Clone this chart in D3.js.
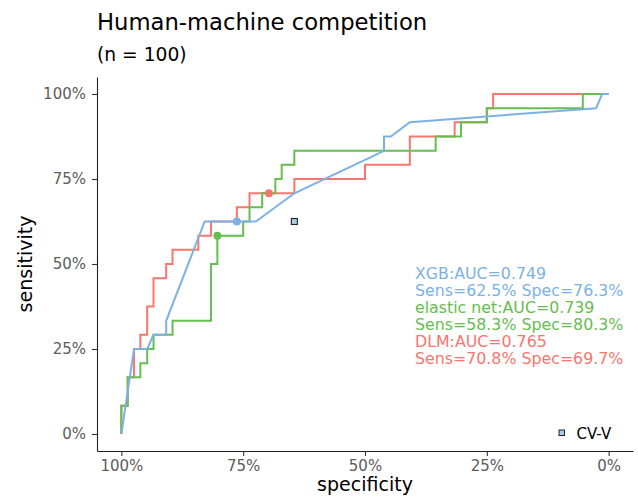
<!DOCTYPE html>
<html>
<head>
  <title>Human-machine competition</title>
  <script src="https://d3js.org/d3.v7.min.js"></script>
  <style>
    body { margin: 0; background: #fff; }
    text { font-family: "DejaVu Sans", sans-serif; }
  </style>
</head>
<body>
<script type="text/javascript">

// ****** DATA ******

  // XGB curve (specificity %, sensitivity %), joined by straight lines
  var xgbSpec = [100, 97.4, 94.7, 93.4, 90.8, 90.8, 82.9, 72.4, 64.5, 46.1, 46.1, 44.7, 40.8, 2.6, 1.3, 0];
  var xgbSens = [0, 25.0, 25.0, 29.2, 29.2, 33.3, 62.5, 62.5, 70.8, 83.3, 87.5, 87.5, 91.7, 95.8, 100, 100];

  // elastic net curve, step corners
  var enetSpec = [100, 100, 98.7, 96.1, 94.7, 93.4, 89.5, 81.6, 80.3, 75.0, 73.7, 71.1, 68.4, 67.1, 64.5, 35.5, 30.3, 25.0, 5.3, 0];
  var enetSens = [0, 8.3, 16.7, 20.8, 25.0, 29.2, 33.3, 50.0, 58.3, 62.5, 66.7, 70.8, 75.0, 79.2, 83.3, 87.5, 91.7, 95.8, 100, 100];

  // DLM curve, step corners
  var dlmSpec = [100, 100, 98.7, 97.4, 96.1, 94.7, 93.4, 90.8, 89.5, 84.2, 81.6, 76.3, 73.7, 64.5, 50.0, 40.8, 31.6, 25.0, 23.7, 0];
  var dlmSens = [0, 8.3, 16.7, 25.0, 29.2, 37.5, 45.8, 50.0, 54.2, 58.3, 62.5, 66.7, 70.8, 75.0, 79.2, 87.5, 91.7, 95.8, 100, 100];

  // best cut-off points
  var cutNames = ["XGB", "elastic net", "DLM"];
  var cutSpec = [76.3, 80.3, 69.7];
  var cutSens = [62.5, 58.3, 70.8];
  var cutAuc = ["0.749", "0.739", "0.765"];

  // human reader (CV-V)
  var readerSpec = [64.5];
  var readerSens = [62.5];

  var tickValues = [1, 0.75, 0.5, 0.25, 0];
  var colors = ["#7cb2e3", "#66bd50", "#f8766d"];


// ****** LAYOUT ******

  var width = 638,
      height = 503,
      padLeft = 97, padRight = 633, padTop = 77, padBottom = 451;

  var svg = d3.select("body")
    .append("svg")
    .attr("width", width)
    .attr("height", height);

  var x = d3.scaleLinear().domain([1.05, -0.05]).range([padLeft, padRight]);
  var y = d3.scaleLinear().domain([-0.05, 1.05]).range([padBottom, padTop]);

  svg.append("text")
    .attr("x", 97).attr("y", 30)
    .style("font-size", "22.7px")
    .text("Human-machine competition");

  svg.append("text")
    .attr("x", 97).attr("y", 61)
    .style("font-size", "18.7px")
    .text("(n = 100)");


// ****** AXES ******

  var xAxis = svg.append("g")
    .attr("transform", "translate(0," + padBottom + ")")
    .call(d3.axisBottom(x).tickValues(tickValues).tickFormat(d3.format(".0%")).tickSize(5).tickSizeOuter(0).tickPadding(4));

  var yAxis = svg.append("g")
    .attr("transform", "translate(" + padLeft + ",0)")
    .call(d3.axisLeft(y).tickValues(tickValues).tickFormat(d3.format(".0%")).tickSize(5).tickSizeOuter(0).tickPadding(6));

  [xAxis, yAxis].forEach(function (g) {
    g.select(".domain").attr("stroke", "#222").attr("stroke-width", 1.1);
    g.selectAll(".tick line").attr("stroke", "#333").attr("stroke-width", 1.1);
    g.selectAll(".tick text")
      .attr("fill", "#5c5c5c")
      .style("font-family", "DejaVu Sans")
      .style("font-size", "15px");
  });

  svg.append("text")
    .attr("x", (padLeft + padRight) / 2).attr("y", 491)
    .attr("text-anchor", "middle")
    .style("font-size", "19px")
    .text("specificity");

  svg.append("text")
    .attr("transform", "translate(32," + (padTop + padBottom) / 2 + ") rotate(-90)")
    .attr("text-anchor", "middle")
    .style("font-size", "19px")
    .text("sensitivity");


// ****** CURVES ******

  function pts(spec, sens) {
    return spec.map(function (s, i) { return [s / 100, sens[i] / 100]; });
  }

  var stepLine = d3.line().x(function (d) { return x(d[0]); }).y(function (d) { return y(d[1]); }).curve(d3.curveStepAfter);
  var plainLine = d3.line().x(function (d) { return x(d[0]); }).y(function (d) { return y(d[1]); });

  // red first, then green, blue on top
  svg.append("path").attr("d", stepLine(pts(dlmSpec, dlmSens)))
    .attr("fill", "none").attr("stroke", colors[2]).attr("stroke-width", 2);
  svg.append("path").attr("d", stepLine(pts(enetSpec, enetSens)))
    .attr("fill", "none").attr("stroke", colors[1]).attr("stroke-width", 2);
  svg.append("path").attr("d", plainLine(pts(xgbSpec, xgbSens)))
    .attr("fill", "none").attr("stroke", colors[0]).attr("stroke-width", 2);

  svg.selectAll("circle.cut")
    .data(cutSpec)
    .enter()
    .append("circle")
    .attr("class", "cut")
    .attr("cx", function (d) { return x(d / 100); })
    .attr("cy", function (d, i) { return y(cutSens[i] / 100); })
    .attr("r", 4)
    .attr("fill", function (d, i) { return colors[i]; });

  svg.selectAll("rect.reader")
    .data(readerSpec)
    .enter()
    .append("rect")
    .attr("class", "reader")
    .attr("x", function (d) { return x(d / 100) - 3; })
    .attr("y", function (d, i) { return y(readerSens[i] / 100) - 3; })
    .attr("width", 6).attr("height", 6)
    .attr("fill", "#a6cde8").attr("stroke", "#222").attr("stroke-width", 1.1);


// ****** ANNOTATION ******

  var lines = [];
  cutNames.forEach(function (n, i) {
    lines.push({ t: n + ":AUC=" + cutAuc[i], c: colors[i] });
    lines.push({ t: "Sens=" + cutSens[i].toFixed(1) + "% Spec=" + cutSpec[i].toFixed(1) + "%", c: colors[i] });
  });

  svg.selectAll("text.note")
    .data(lines)
    .enter()
    .append("text")
    .attr("class", "note")
    .attr("x", 415)
    .attr("y", function (d, i) { return 278.5 + i * 17; })
    .attr("fill", function (d) { return d.c; })
    .style("font-size", "15.8px")
    .text(function (d) { return d.t; });

  // legend
  svg.append("rect")
    .attr("x", 559).attr("y", 430).attr("width", 5.5).attr("height", 5.5)
    .attr("fill", "#a6cde8").attr("stroke", "#222").attr("stroke-width", 1);
  svg.append("text")
    .attr("x", 576.5).attr("y", 438.5)
    .style("font-size", "15px")
    .text("CV-V");

</script>
</body>
</html>
